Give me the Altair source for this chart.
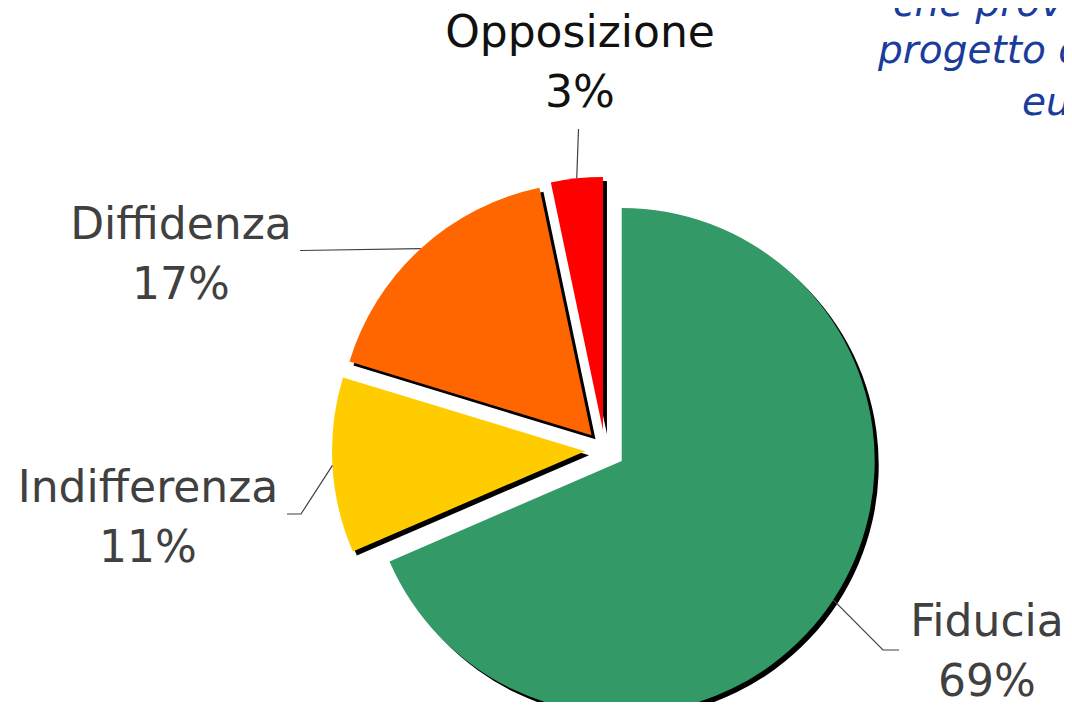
import math
import altair as alt
import pandas as pd

# ---- data (clockwise from 12 o'clock) ----
categories = ["Fiducia", "Indifferenza", "Diffidenza", "Opposizione"]
values = [68.5, 11.2, 17.0, 3.3]
pct_labels = ["69%", "11%", "17%", "3%"]
colors = ["#339966", "#FFCC00", "#FF6600", "#FF0000"]
note_lines = ["che provano per il", "progetto di integrazione", "europea"]

# ---- layout (page pixels; the page has an 8px margin) ----
PAGE = 8
W, H = 1056, 694
CX, CY = 605 - PAGE, 450 - PAGE
R = 253
EXPLODE = 20
SHADOW = 4

label_pos = {  # center x, first baseline
    "Fiducia": (987, 636),
    "Indifferenza": (148, 502),
    "Diffidenza": (181, 239),
    "Opposizione": (580, 47),
}
label_color = {"Fiducia": "#404040", "Indifferenza": "#404040",
               "Diffidenza": "#404040", "Opposizione": "#111111"}
leader_tail = {
    "Fiducia": [(883, 650), (899, 650)],
    "Indifferenza": [(301, 514), (287, 514)],
    "Diffidenza": [(300, 250.5)],
    "Opposizione": [(578.5, 129)],
}
note_pos = [(893, 16), (878, 63), (1022, 115)]

total = sum(values)
rows, leaders, labels = [], [], []
acc = 0.0
for i, (c, v, p, col) in enumerate(zip(categories, values, pct_labels, colors)):
    p0 = acc / total
    acc += v
    p1 = acc / total
    mid = math.pi * (p0 + p1)
    ex = CX + EXPLODE * math.sin(mid)
    ey = CY - EXPLODE * math.cos(mid)
    rows.append(dict(name=c, p0=p0, p1=p1, ex=ex, ey=ey,
                     sx=ex + SHADOW, sy=ey + SHADOW, color=col))
    sx = ex + R * math.sin(mid)
    sy = ey - R * math.cos(mid)
    pts = [(sx, sy)] + [(x - PAGE, y - PAGE) for x, y in leader_tail[c]]
    for k, (x, y) in enumerate(pts):
        leaders.append(dict(name=c, k=k, x=x, y=y))
    lx, ly = label_pos[c]
    labels.append(dict(name=c, text=c + "\n" + p, x=lx - PAGE, y=ly - PAGE,
                       color=label_color[c]))

slices = pd.DataFrame(rows)
lead_df = pd.DataFrame(leaders)
lab_df = pd.DataFrame(labels)
note_df = pd.DataFrame([dict(text=t, x=x - PAGE, y=y - PAGE, k=i)
                        for i, (t, (x, y)) in enumerate(zip(note_lines, note_pos))])

theta_scale = alt.Scale(domain=[0, 1], range=[0, 2 * math.pi])

shadow = alt.Chart(slices).mark_arc(color="black", radius=R).encode(
    theta=alt.Theta("p0:Q", scale=theta_scale),
    theta2="p1:Q",
    x=alt.X("sx:Q", scale=None),
    y=alt.Y("sy:Q", scale=None),
)

pie = alt.Chart(slices).mark_arc(radius=R).encode(
    theta=alt.Theta("p0:Q", scale=theta_scale),
    theta2="p1:Q",
    x=alt.X("ex:Q", scale=None),
    y=alt.Y("ey:Q", scale=None),
    color=alt.Color("color:N", scale=None),
)

lines = alt.Chart(lead_df).mark_line(color="#404040", strokeWidth=1.2).encode(
    x=alt.X("x:Q", scale=None),
    y=alt.Y("y:Q", scale=None),
    detail="name:N",
    order="k:Q",
)

texts = alt.Chart(lab_df).mark_text(
    font="DejaVu Sans", fontSize=44, align="center", baseline="alphabetic",
    lineBreak="\n", lineHeight=60,
).encode(
    x=alt.X("x:Q", scale=None),
    y=alt.Y("y:Q", scale=None),
    text="text:N",
    color=alt.Color("color:N", scale=None),
)

notes = alt.Chart(note_df).mark_text(
    font="DejaVu Sans", fontSize=39, fontStyle="italic", align="left",
    baseline="alphabetic", color="#1A3C9C",
).encode(
    x=alt.X("x:Q", scale=None),
    y=alt.Y("y:Q", scale=None),
    text="text:N",
)

chart = alt.layer(shadow, pie, lines, texts, notes).properties(
    width=W, height=H, padding=0,
    autosize=alt.AutoSizeParams(type="none"),
    background="white",
).configure_view(stroke=None)

chart.save("out.html", embed_options={"renderer": "svg", "actions": False})
